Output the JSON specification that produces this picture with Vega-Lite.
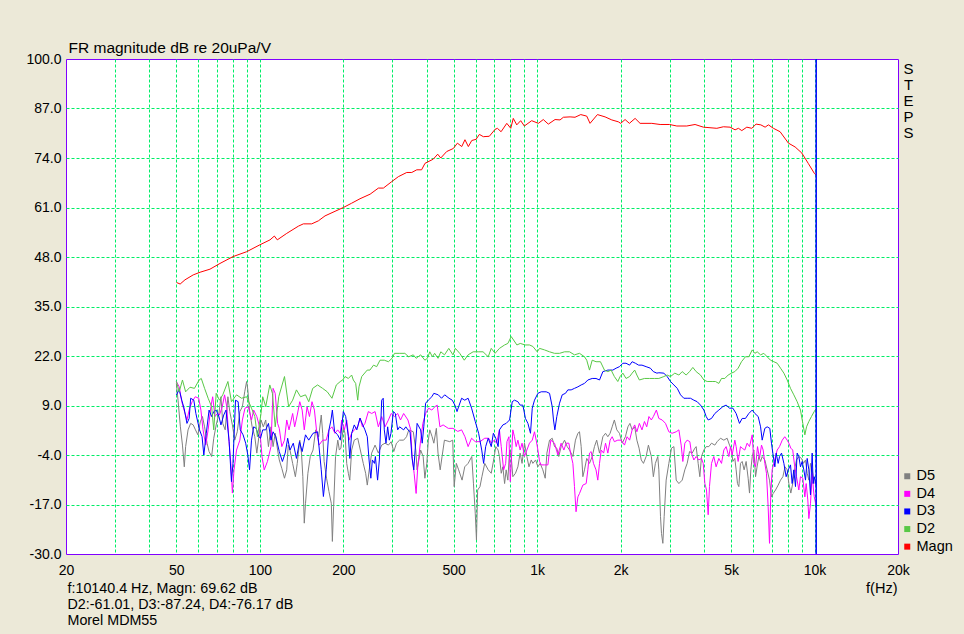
{
  "$schema": "https://vega.github.io/schema/vega-lite/v6.json",
  "width": 832,
  "height": 495,
  "autosize": {"type": "none"},
  "padding": {"left": 66, "top": 59, "right": 66, "bottom": 80},
  "background": "#ece9d8",
  "datasets": {
    "magn": [
      {"f":50.1,"v":41.3},{"f":51.6,"v":40.9},{"f":53.7,"v":42.0},{"f":57.5,"v":43.3},{"f":60.9,"v":44.0},{"f":66.1,"v":44.8},{"f":71.8,"v":46.3},{"f":80,"v":48.1},{"f":89.7,"v":49.4},{"f":100,"v":51.2},{"f":108.8,"v":52.5},{"f":112.8,"v":53.5},{"f":115.6,"v":52.5},{"f":125,"v":54.2},{"f":137.7,"v":56.1},{"f":143.5,"v":56.7},{"f":153.8,"v":56.7},{"f":162.6,"v":57.5},{"f":171.8,"v":58.8},{"f":200,"v":61.0},{"f":214,"v":62.1},{"f":229.7,"v":63.3},{"f":249.8,"v":64.5},{"f":267.6,"v":66.1},{"f":278.9,"v":66.1},{"f":299,"v":67.8},{"f":315.8,"v":69.1},{"f":338.6,"v":70.2},{"f":353,"v":70.2},{"f":368,"v":70.9},{"f":383,"v":70.9},{"f":394,"v":72.6},{"f":422,"v":73.7},{"f":437.8,"v":75.0},{"f":449,"v":74.0},{"f":471.8,"v":75.7},{"f":498.6,"v":76.5},{"f":515.6,"v":77.9},{"f":534.6,"v":77.0},{"f":549,"v":78.8},{"f":564.7,"v":77.0},{"f":581,"v":78.6},{"f":602,"v":78.9},{"f":618.9,"v":80.2},{"f":639.6,"v":79.6},{"f":672,"v":79.7},{"f":704.6,"v":81.5},{"f":718.6,"v":81.8},{"f":741,"v":80.9},{"f":777,"v":83.1},{"f":803,"v":81.8},{"f":820,"v":84.4},{"f":844,"v":82.7},{"f":872,"v":83.8},{"f":899,"v":82.4},{"f":955.6,"v":83.8},{"f":1010,"v":83.1},{"f":1052,"v":84.1},{"f":1097,"v":82.9},{"f":1160,"v":84.1},{"f":1209,"v":84.0},{"f":1243,"v":84.7},{"f":1314,"v":84.8},{"f":1369,"v":84.7},{"f":1436,"v":85.4},{"f":1509,"v":85.0},{"f":1551,"v":83.1},{"f":1649,"v":85.4},{"f":1757,"v":84.8},{"f":1858,"v":84.0},{"f":1962,"v":83.5},{"f":2000,"v":83.1},{"f":2075,"v":84.1},{"f":2150,"v":83.1},{"f":2255,"v":84.4},{"f":2350,"v":83.1},{"f":2590,"v":83.1},{"f":2775,"v":82.8},{"f":3000,"v":82.8},{"f":3188,"v":82.4},{"f":3462,"v":82.4},{"f":3709,"v":82.8},{"f":3975,"v":82.1},{"f":4444,"v":81.8},{"f":4692,"v":82.2},{"f":4961,"v":82.1},{"f":5172,"v":81.4},{"f":5316,"v":81.8},{"f":5467,"v":81.2},{"f":5700,"v":82.1},{"f":5941,"v":81.8},{"f":6155,"v":82.9},{"f":6403,"v":82.7},{"f":6636,"v":82.1},{"f":6820,"v":82.7},{"f":7109,"v":81.8},{"f":7515,"v":80.9},{"f":8053,"v":77.9},{"f":8513,"v":76.9},{"f":9001,"v":75.3},{"f":9508,"v":72.5},{"f":10000,"v":69.9},{"f":10140,"v":69.6}
    ],
    "d2": [
      {"f":50,"v":15.3},{"f":51.2,"v":12.6},{"f":52.6,"v":15.7},{"f":54.0,"v":12.6},{"f":56.0,"v":13.8},{"f":58.1,"v":13.5},{"f":60.4,"v":15.7},{"f":61.5,"v":16.1},{"f":63.2,"v":13.5},{"f":65.1,"v":10.9},{"f":67.0,"v":8.7},{"f":68.2,"v":2.6},{"f":69.6,"v":12.2},{"f":71.5,"v":10.4},{"f":73.5,"v":11.8},{"f":76.7,"v":15.3},{"f":79.0,"v":10.0},{"f":82.4,"v":11.8},{"f":85.9,"v":10.9},{"f":89.6,"v":11.3},{"f":93.3,"v":8.3},{"f":95.9,"v":6.1},{"f":98.0,"v":0.8},{"f":101.0,"v":6.9},{"f":102.4,"v":11.3},{"f":105.0,"v":8.7},{"f":108.6,"v":14.4},{"f":111.0,"v":12.2},{"f":113.6,"v":3.4},{"f":117.0,"v":11.3},{"f":122.7,"v":16.6},{"f":127.0,"v":8.7},{"f":131.3,"v":10.4},{"f":135.5,"v":13.1},{"f":140.2,"v":11.3},{"f":146.1,"v":11.8},{"f":150.1,"v":10.0},{"f":155.1,"v":13.5},{"f":161.5,"v":14.4},{"f":168.4,"v":13.5},{"f":175,"v":12.6},{"f":182,"v":10.9},{"f":188.7,"v":14.4},{"f":195,"v":15.3},
      {"f":199,"v":15.7},{"f":202.8,"v":16.6},{"f":208.5,"v":16.1},{"f":214.3,"v":17.0},{"f":217.3,"v":15.7},{"f":221.6,"v":14.8},{"f":225.4,"v":10.4},{"f":227.8,"v":13.9},{"f":233.0,"v":16.6},{"f":243.9,"v":18.3},{"f":249.4,"v":18.3},{"f":257.0,"v":19.6},{"f":263.8,"v":19.2},{"f":271.2,"v":20.9},{"f":281.0,"v":20.9},{"f":290.8,"v":20.5},{"f":299.7,"v":21.4},{"f":305.8,"v":22.7},{"f":318,"v":22.7},{"f":333.3,"v":22.7},{"f":344,"v":21.8},{"f":357.5,"v":22.3},{"f":366,"v":21.4},{"f":380,"v":22.3},{"f":393.6,"v":20.9},{"f":402,"v":21.4},{"f":410,"v":23.1},{"f":419,"v":21.8},{"f":426.8,"v":22.7},{"f":439,"v":21.4},{"f":449.3,"v":23.1},{"f":463.2,"v":22.3},{"f":480,"v":24.0},{"f":497,"v":22.3},{"f":507,"v":24.0},{"f":525.7,"v":22.7},{"f":546,"v":20.9},{"f":563.6,"v":22.3},{"f":587.5,"v":23.1},{"f":613,"v":23.1},{"f":638,"v":23.1},{"f":666,"v":21.8},{"f":683,"v":24.0},{"f":705,"v":22.7},
      {"f":731,"v":24.0},{"f":763,"v":24.9},{"f":784,"v":25.3},{"f":806,"v":27.1},{"f":822,"v":26.2},{"f":845,"v":24.9},{"f":869,"v":25.3},{"f":905,"v":24.9},{"f":938,"v":24.9},{"f":965,"v":24.5},{"f":1000,"v":23.1},{"f":1020,"v":24.0},{"f":1063,"v":23.6},{"f":1108,"v":23.1},{"f":1155,"v":22.7},{"f":1204,"v":22.7},{"f":1255,"v":23.1},{"f":1308,"v":23.1},{"f":1363,"v":22.3},{"f":1421,"v":22.7},{"f":1481,"v":21.8},{"f":1509,"v":20.9},{"f":1544,"v":18.3},{"f":1579,"v":20.9},{"f":1630,"v":20.5},{"f":1691,"v":20.5},{"f":1748,"v":18.3},{"f":1798,"v":17.9},{"f":1848,"v":18.3},{"f":1898,"v":16.6},{"f":1953,"v":15.3},{"f":1991,"v":16.6},{"f":2037,"v":17.5},{"f":2091,"v":16.1},{"f":2154,"v":16.6},{"f":2200,"v":17.5},{"f":2247,"v":18.3},{"f":2288,"v":17.0},{"f":2336,"v":15.7},{"f":2437,"v":16.1},{"f":2540,"v":16.1},{"f":2648,"v":16.1},
      {"f":2746,"v":16.1},{"f":2862,"v":16.6},{"f":2942,"v":17.0},{"f":3025,"v":16.6},{"f":3135,"v":17.5},{"f":3243,"v":17.0},{"f":3334,"v":17.9},{"f":3445,"v":17.0},{"f":3543,"v":17.9},{"f":3642,"v":19.0},{"f":3743,"v":17.9},{"f":3881,"v":17.0},{"f":3990,"v":15.7},{"f":4102,"v":15.3},{"f":4275,"v":15.3},{"f":4394,"v":15.3},{"f":4518,"v":14.8},{"f":4620,"v":16.1},{"f":4749,"v":16.1},{"f":4882,"v":17.0},{"f":5020,"v":17.5},{"f":5160,"v":17.9},{"f":5304,"v":18.8},{"f":5454,"v":20.5},{"f":5636,"v":21.8},{"f":5796,"v":21.8},{"f":5962,"v":23.6},{"f":6095,"v":22.7},{"f":6213,"v":23.1},{"f":6390,"v":22.3},{"f":6565,"v":22.7},{"f":6749,"v":21.8},{"f":6939,"v":20.9},{"f":7134,"v":20.5},{"f":7335,"v":20.1},{"f":7542,"v":18.8},{"f":7754,"v":17.5},{"f":7971,"v":15.7},{"f":8193,"v":13.5},{"f":8421,"v":11.8},{"f":8658,"v":10.0},{"f":8900,"v":7.8},{"f":9075,"v":4.3},{"f":9230,"v":1.3},{"f":9360,"v":3.4},{"f":9541,"v":4.8},{"f":9750,"v":6.1},{"f":9973,"v":7.4},{"f":10140,"v":8.2}
    ],
    "d3": [
      {"f":50,"v":11.8},{"f":51.2,"v":13.1},{"f":52.3,"v":10.4},{"f":53.3,"v":8.3},{"f":54.6,"v":4.3},{"f":55.6,"v":5.6},{"f":56.3,"v":10.9},{"f":57.8,"v":10.4},{"f":58.8,"v":6.9},{"f":60.6,"v":2.6},{"f":61.9,"v":0.8},{"f":62.8,"v":-4.0},{"f":64.1,"v":1.7},{"f":65.6,"v":7.8},{"f":67.0,"v":6.1},{"f":68.2,"v":7.4},{"f":69.6,"v":7.8},{"f":71.2,"v":6.1},{"f":72.4,"v":3.9},{"f":74.1,"v":6.5},{"f":75.5,"v":7.8},{"f":77.5,"v":-0.5},{"f":79.0,"v":-11.0},{"f":80.0,"v":-6.2},{"f":81.7,"v":10.4},{"f":83.5,"v":10.0},{"f":85.0,"v":2.6},{"f":87.0,"v":1.3},{"f":88.9,"v":-0.9},{"f":90.5,"v":-4.0},{"f":91.8,"v":-7.9},{"f":93.3,"v":-0.1},{"f":95.0,"v":3.4},{"f":97.0,"v":3.0},{"f":99.2,"v":0.8},{"f":100.6,"v":0.4},{"f":102.4,"v":2.6},{"f":105.0,"v":2.6},{"f":107.4,"v":4.3},{"f":109.7,"v":-0.1},{"f":111.6,"v":2.1},{"f":114.2,"v":0.8},{"f":117.5,"v":-3.1},{"f":120.6,"v":-5.7},{"f":123.4,"v":-3.5},{"f":126.0,"v":0.4},{"f":128.4,"v":-2.7},{"f":132.0,"v":-0.9},{"f":135.5,"v":-4.9},{"f":139.0,"v":-0.5},{"f":142.1,"v":-3.1},{"f":146.1,"v":1.3},{"f":150.1,"v":-0.1},{"f":155.5,"v":1.7},{"f":161.5,"v":2.1},{"f":166.5,"v":-7.9},{"f":169.5,"v":-14.9},{"f":173.5,"v":-7.9},{"f":177.5,"v":2.6},{"f":180.5,"v":5.2},{"f":182.6,"v":7.8},{"f":186,"v":2.1},{"f":190.8,"v":1.3},{"f":195,"v":-0.1},
      {"f":200,"v":7.4},{"f":204,"v":6.1},{"f":208.5,"v":0.8},{"f":211.1,"v":-4.9},{"f":214.3,"v":1.7},{"f":219,"v":3.9},{"f":223.7,"v":2.6},{"f":229.7,"v":5.7},{"f":235,"v":3.9},{"f":239.3,"v":2.6},{"f":244,"v":0.8},{"f":247.6,"v":-5.3},{"f":251.3,"v":-10.1},{"f":254.5,"v":-5.3},{"f":259,"v":-6.2},{"f":261,"v":-4.4},{"f":265.8,"v":-10.6},{"f":269.7,"v":-5.3},{"f":275,"v":10.4},{"f":278.5,"v":10.9},{"f":281,"v":2.6},{"f":285,"v":-0.9},{"f":289,"v":3.4},{"f":293,"v":-0.1},{"f":297,"v":1.7},{"f":303,"v":7.4},{"f":308,"v":6.9},{"f":314,"v":2.6},{"f":319,"v":3.4},{"f":330,"v":2.6},{"f":336,"v":3.4},{"f":342,"v":2.6},{"f":348,"v":2.1},{"f":354,"v":-4.9},{"f":359,"v":-7.9},{"f":363,"v":-2.7},{"f":369,"v":4.3},{"f":380,"v":2.6},{"f":385,"v":-0.9},{"f":390,"v":3.4},{"f":396,"v":9.6},{"f":405,"v":10.4},{"f":417,"v":11.3},{"f":424,"v":12.2},{"f":440,"v":11.8},{"f":452,"v":10.9},{"f":464,"v":11.8},{"f":481,"v":10.9},{"f":494,"v":10.4},{"f":505,"v":9.1},{"f":514,"v":7.4},{"f":521,"v":8.7},{"f":534,"v":10.9},{"f":548,"v":10.4},{"f":563.6,"v":10.9},{"f":580,"v":8.3},{"f":598,"v":4.8},{"f":615,"v":1.7},{"f":631,"v":-2.7},{"f":641,"v":-6.2},{"f":652,"v":-1.8},{"f":666,"v":0.4},{"f":683,"v":-1.8},{"f":695,"v":1.7},{"f":709,"v":0.4},{"f":723,"v":-1.8},
      {"f":731,"v":2.6},{"f":752,"v":3.9},{"f":773,"v":4.3},{"f":795,"v":5.2},{"f":813,"v":10.0},{"f":828,"v":10.4},{"f":852,"v":10.0},{"f":868,"v":9.1},{"f":888,"v":9.1},{"f":907,"v":5.6},{"f":926,"v":4.3},{"f":946,"v":1.7},{"f":960,"v":8.3},{"f":978,"v":10.4},{"f":1006,"v":12.2},{"f":1034,"v":12.6},{"f":1078,"v":12.6},{"f":1108,"v":12.2},{"f":1133,"v":8.7},{"f":1145,"v":5.2},{"f":1158,"v":2.6},{"f":1177,"v":6.1},{"f":1204,"v":9.6},{"f":1231,"v":11.8},{"f":1265,"v":12.2},{"f":1290,"v":13.1},{"f":1326,"v":13.1},{"f":1363,"v":13.5},{"f":1402,"v":13.9},{"f":1441,"v":14.4},{"f":1481,"v":14.8},{"f":1523,"v":15.7},{"f":1579,"v":16.1},{"f":1630,"v":16.1},{"f":1678,"v":15.7},{"f":1725,"v":17.9},{"f":1798,"v":18.3},{"f":1874,"v":18.3},{"f":1926,"v":18.8},{"f":1980,"v":19.2},{"f":2037,"v":20.1},{"f":2091,"v":20.1},{"f":2154,"v":19.6},{"f":2200,"v":20.5},{"f":2260,"v":20.1},{"f":2322,"v":19.6},{"f":2387,"v":19.6},{"f":2471,"v":19.2},{"f":2559,"v":18.8},{"f":2624,"v":17.9},{"f":2701,"v":17.5},
      {"f":2746,"v":17.6},{"f":2862,"v":17.5},{"f":2942,"v":16.6},{"f":3025,"v":15.3},{"f":3111,"v":14.4},{"f":3199,"v":13.5},{"f":3288,"v":11.8},{"f":3379,"v":10.9},{"f":3474,"v":10.9},{"f":3571,"v":10.9},{"f":3672,"v":10.4},{"f":3775,"v":10.0},{"f":3881,"v":9.1},{"f":3990,"v":7.8},{"f":4068,"v":6.1},{"f":4136,"v":5.2},{"f":4252,"v":5.6},{"f":4371,"v":6.9},{"f":4518,"v":7.8},{"f":4671,"v":8.7},{"f":4800,"v":9.1},{"f":4937,"v":8.3},{"f":5076,"v":8.3},{"f":5217,"v":6.9},{"f":5364,"v":4.3},{"f":5484,"v":5.6},{"f":5636,"v":5.6},{"f":5796,"v":6.9},{"f":5962,"v":7.8},{"f":6095,"v":6.9},{"f":6265,"v":6.1},{"f":6390,"v":3.4},{"f":6476,"v":-0.1},{"f":6620,"v":3.0},{"f":6749,"v":3.4},{"f":6900,"v":3.0},{"f":6995,"v":-0.9},{"f":7075,"v":-3.5},{"f":7194,"v":-7.1},{"f":7274,"v":-3.5},{"f":7396,"v":-6.2},{"f":7480,"v":-4.4},{"f":7605,"v":-3.5},{"f":7754,"v":-6.2},{"f":7902,"v":-9.7},{"f":8040,"v":-7.9},{"f":8193,"v":-6.6},{"f":8306,"v":-11.5},{"f":8421,"v":-7.9},{"f":8539,"v":-12.3},{"f":8658,"v":-3.5},{"f":8779,"v":-4.4},{"f":8900,"v":-7.1},{"f":9025,"v":-5.7},{"f":9151,"v":-7.9},{"f":9279,"v":-10.6},{"f":9409,"v":-4.9},{"f":9541,"v":-7.9},{"f":9672,"v":-14.5},{"f":9808,"v":-3.5},{"f":9888,"v":-11.5},{"f":9973,"v":-9.7},{"f":10140,"v":-12.0}
    ],
    "d4": [
      {"f":50,"v":15.3},{"f":51.2,"v":13.9},{"f":52.3,"v":10.0},{"f":53.3,"v":7.8},{"f":54.6,"v":5.2},{"f":55.8,"v":8.3},{"f":57.0,"v":10.0},{"f":58.5,"v":11.3},{"f":60.2,"v":10.9},{"f":61.3,"v":7.8},{"f":62.4,"v":2.6},{"f":63.8,"v":-1.4},{"f":65.1,"v":2.6},{"f":66.6,"v":8.7},{"f":67.6,"v":11.3},{"f":68.9,"v":6.1},{"f":70.3,"v":6.9},{"f":71.5,"v":6.5},{"f":73.2,"v":8.7},{"f":74.6,"v":11.8},{"f":76.0,"v":8.7},{"f":77.5,"v":-0.9},{"f":78.6,"v":-6.2},{"f":79.6,"v":-14.0},{"f":80.7,"v":-7.9},{"f":82.4,"v":-2.7},{"f":84.7,"v":-0.1},{"f":86.5,"v":5.2},{"f":88.4,"v":8.3},{"f":90.8,"v":8.7},{"f":93.3,"v":5.2},{"f":95.0,"v":7.8},{"f":97.5,"v":6.1},{"f":99.8,"v":3.4},{"f":101.8,"v":-4.4},{"f":103.7,"v":-7.9},{"f":106.5,"v":-5.7},{"f":109.7,"v":-1.8},{"f":111.6,"v":13.5},{"f":113.6,"v":12.2},{"f":115.9,"v":4.3},{"f":117.5,"v":3.0},{"f":120.0,"v":-1.8},{"f":122.7,"v":-0.1},{"f":125.0,"v":5.2},{"f":127.4,"v":2.6},{"f":131.3,"v":6.9},{"f":133.5,"v":3.4},{"f":136.4,"v":6.5},{"f":139.3,"v":10.0},{"f":142.1,"v":7.8},{"f":144.6,"v":2.6},{"f":148.0,"v":8.7},{"f":151.0,"v":6.1},{"f":154.2,"v":10.0},{"f":157.3,"v":7.8},{"f":160.5,"v":1.7},{"f":163.5,"v":-1.4},{"f":168.5,"v":-0.1},{"f":173.5,"v":-0.1},{"f":177.5,"v":2.6},{"f":182,"v":3.4},{"f":186.5,"v":1.7},{"f":190.8,"v":2.6},{"f":195,"v":1.7},
      {"f":197.2,"v":5.2},{"f":201.7,"v":2.6},{"f":205.7,"v":5.2},{"f":209.7,"v":-0.1},{"f":214.3,"v":1.7},{"f":219,"v":2.6},{"f":225.4,"v":3.4},{"f":229.7,"v":5.7},{"f":234.4,"v":3.4},{"f":239.3,"v":4.3},{"f":246.2,"v":7.4},{"f":253.1,"v":6.9},{"f":260.3,"v":7.4},{"f":267.5,"v":3.4},{"f":275,"v":6.1},{"f":282.8,"v":3.4},{"f":290.8,"v":5.2},{"f":297.6,"v":6.9},{"f":305.8,"v":6.1},{"f":314,"v":6.9},{"f":321.5,"v":5.2},{"f":330,"v":6.9},{"f":342,"v":5.2},{"f":350,"v":2.6},{"f":354,"v":-4.4},{"f":360,"v":-8.8},{"f":366,"v":-14.1},{"f":371,"v":-7.1},{"f":379,"v":-0.9},{"f":387,"v":4.3},{"f":396,"v":6.9},{"f":406,"v":8.3},{"f":417,"v":7.8},{"f":428,"v":8.7},{"f":436,"v":9.1},{"f":446,"v":3.4},{"f":458,"v":3.9},{"f":478,"v":3.0},{"f":497,"v":3.0},{"f":517,"v":2.2},{"f":534,"v":2.6},{"f":549,"v":0.8},{"f":563.6,"v":-1.8},{"f":580,"v":0.4},{"f":598,"v":-0.5},{"f":622,"v":-0.5},{"f":647,"v":0.4},{"f":669,"v":0.4},{"f":683,"v":-0.9},{"f":700,"v":-0.1},{"f":714,"v":-0.9},
      {"f":731,"v":2.6},{"f":742,"v":-1.8},{"f":757,"v":-7.9},{"f":770,"v":-6.2},{"f":778,"v":-0.5},{"f":791,"v":0.8},{"f":800,"v":-11.0},{"f":808,"v":-4.4},{"f":817,"v":2.6},{"f":828,"v":0.8},{"f":840,"v":-1.8},{"f":852,"v":-0.1},{"f":868,"v":-2.7},{"f":882,"v":-0.9},{"f":900,"v":-4.4},{"f":918,"v":-2.7},{"f":938,"v":-0.9},{"f":960,"v":-0.1},{"f":978,"v":2.1},{"f":992,"v":-0.1},{"f":1006,"v":-2.7},{"f":1020,"v":-5.7},{"f":1034,"v":-6.6},{"f":1063,"v":-6.6},{"f":1093,"v":-6.6},{"f":1108,"v":-2.7},{"f":1120,"v":-0.1},{"f":1155,"v":-0.9},{"f":1187,"v":-4.0},{"f":1220,"v":-0.9},{"f":1248,"v":-2.7},{"f":1272,"v":-0.9},{"f":1301,"v":-0.9},{"f":1319,"v":-3.5},{"f":1345,"v":-6.2},{"f":1363,"v":-12.3},{"f":1381,"v":-18.9},{"f":1402,"v":-15.0},{"f":1421,"v":-14.1},{"f":1461,"v":-11.9},{"f":1502,"v":-11.5},{"f":1523,"v":-7.9},{"f":1544,"v":-3.5},{"f":1565,"v":-3.1},{"f":1596,"v":-6.2},{"f":1630,"v":-7.9},{"f":1654,"v":-10.6},{"f":1678,"v":-6.2},{"f":1702,"v":-2.7},{"f":1736,"v":-3.5},{"f":1764,"v":-0.9},{"f":1798,"v":-3.5},{"f":1832,"v":-0.1},{"f":1864,"v":0.8},{"f":1898,"v":-0.5},{"f":1953,"v":-0.1},{"f":2006,"v":-0.1},{"f":2065,"v":-1.4},{"f":2109,"v":0.8},{"f":2154,"v":-0.1},{"f":2200,"v":2.6},{"f":2247,"v":3.9},{"f":2288,"v":2.1},{"f":2336,"v":4.3},{"f":2387,"v":2.6},{"f":2437,"v":4.8},{"f":2483,"v":3.4},{"f":2529,"v":6.1},{"f":2580,"v":5.2},{"f":2624,"v":6.1},{"f":2690,"v":7.8},
      {"f":2746,"v":5.6},{"f":2823,"v":5.2},{"f":2902,"v":4.3},{"f":2984,"v":2.1},{"f":3066,"v":1.7},{"f":3172,"v":2.1},{"f":3243,"v":2.6},{"f":3305,"v":-1.4},{"f":3351,"v":-5.7},{"f":3407,"v":-0.9},{"f":3474,"v":-0.1},{"f":3552,"v":-0.5},{"f":3601,"v":-3.5},{"f":3672,"v":-5.3},{"f":3743,"v":-4.4},{"f":3827,"v":-5.3},{"f":3913,"v":-4.9},{"f":3969,"v":-6.2},{"f":4024,"v":-11.5},{"f":4079,"v":-13.2},{"f":4136,"v":-19.7},{"f":4181,"v":-12.3},{"f":4252,"v":-6.2},{"f":4334,"v":-4.4},{"f":4418,"v":-7.1},{"f":4518,"v":-4.9},{"f":4620,"v":-6.2},{"f":4710,"v":-2.7},{"f":4800,"v":-1.8},{"f":4909,"v":-4.4},{"f":4979,"v":-1.8},{"f":5048,"v":-4.0},{"f":5160,"v":-0.1},{"f":5217,"v":-1.8},{"f":5304,"v":-5.7},{"f":5408,"v":-1.8},{"f":5484,"v":-2.2},{"f":5605,"v":-2.7},{"f":5715,"v":-0.9},{"f":5829,"v":-1.8},{"f":5962,"v":1.3},{"f":6045,"v":-6.2},{"f":6129,"v":-7.1},{"f":6230,"v":-1.8},{"f":6334,"v":-4.9},{"f":6440,"v":-1.4},{"f":6529,"v":-2.7},{"f":6620,"v":-6.2},{"f":6711,"v":-8.8},{"f":6805,"v":-17.6},{"f":6882,"v":-27.2},{"f":6957,"v":-14.1},{"f":7035,"v":-7.9},{"f":7134,"v":-6.2},{"f":7234,"v":-4.4},{"f":7335,"v":-2.7},{"f":7480,"v":-1.8},{"f":7650,"v":-0.1},{"f":7810,"v":0.8},{"f":7971,"v":-0.1},{"f":8081,"v":-0.9},{"f":8214,"v":-2.2},{"f":8345,"v":-2.7},{"f":8470,"v":-6.6},{"f":8610,"v":-9.7},{"f":8779,"v":-13.2},{"f":8900,"v":-9.7},{"f":9075,"v":-10.1},{"f":9230,"v":-15.0},{"f":9330,"v":-11.5},{"f":9460,"v":-15.8},{"f":9541,"v":-20.7},{"f":9672,"v":-16.8},{"f":9808,"v":-8.8},{"f":9915,"v":-13.2},{"f":9973,"v":-14.9},{"f":10140,"v":-17.5}
    ],
    "d5": [
      {"f":50,"v":14.8},{"f":50.7,"v":10.4},{"f":51.7,"v":3.4},{"f":52.6,"v":-1.4},{"f":53.4,"v":-7.1},{"f":54.0,"v":-1.8},{"f":55.1,"v":2.6},{"f":56.3,"v":4.3},{"f":57.5,"v":3.9},{"f":58.6,"v":2.6},{"f":59.8,"v":1.3},{"f":61.0,"v":4.7},{"f":62.1,"v":6.1},{"f":63.2,"v":3.4},{"f":64.5,"v":-0.9},{"f":65.6,"v":-3.1},{"f":67.0,"v":-4.4},{"f":68.2,"v":0.4},{"f":69.6,"v":3.9},{"f":71.2,"v":6.9},{"f":72.4,"v":11.3},{"f":73.5,"v":4.3},{"f":75.0,"v":2.6},{"f":76.7,"v":11.3},{"f":77.9,"v":7.4},{"f":79.6,"v":3.9},{"f":81.2,"v":-0.1},{"f":82.9,"v":2.1},{"f":84.7,"v":7.4},{"f":86.5,"v":8.7},{"f":88.2,"v":12.6},{"f":89.6,"v":15.3},{"f":90.5,"v":13.1},{"f":91.8,"v":7.8},{"f":93.8,"v":3.4},{"f":95.9,"v":0.8},{"f":97.5,"v":-3.5},{"f":99.2,"v":0.8},{"f":101.0,"v":5.2},{"f":102.9,"v":3.4},{"f":105.0,"v":5.2},{"f":107.4,"v":-1.8},{"f":109.7,"v":3.4},{"f":111.6,"v":-1.8},{"f":113.6,"v":1.7},{"f":115.9,"v":-2.7},{"f":117.5,"v":-5.3},{"f":120.0,"v":-7.5},{"f":122.7,"v":-10.1},{"f":125.0,"v":-7.9},{"f":126.6,"v":-1.4},{"f":128.4,"v":-2.7},{"f":131.3,"v":-6.2},{"f":134.3,"v":-9.7},{"f":136.4,"v":-6.2},{"f":139.3,"v":-0.1},{"f":141.3,"v":-3.5},{"f":142.9,"v":-9.7},{"f":144.6,"v":-21.9},{"f":146.1,"v":-16.7},{"f":149.0,"v":-8.8},{"f":152,"v":-4.4},{"f":155.5,"v":-2.7},{"f":159,"v":2.6},{"f":163,"v":0.8},{"f":166.5,"v":6.5},{"f":168.5,"v":1.7},{"f":170.5,"v":-5.7},{"f":174,"v":-10.1},{"f":177.5,"v":-13.6},{"f":181,"v":-16.7},{"f":182.6,"v":-26.7},{"f":184.5,"v":-17.6},{"f":187.5,"v":-4.4},{"f":191,"v":-0.1},{"f":193.5,"v":-2.7},
      {"f":196,"v":-2.2},{"f":200,"v":3.4},{"f":202.8,"v":1.7},{"f":205.7,"v":-6.2},{"f":208.5,"v":-8.8},{"f":211,"v":-10.6},{"f":214.3,"v":-2.7},{"f":219,"v":-0.1},{"f":225.4,"v":0.4},{"f":231.6,"v":-3.5},{"f":236,"v":-6.2},{"f":240.7,"v":-8.8},{"f":244,"v":-11.9},{"f":248,"v":-7.9},{"f":253,"v":-3.5},{"f":260.3,"v":-1.4},{"f":267.5,"v":-3.5},{"f":275,"v":-1.4},{"f":282.8,"v":-0.9},{"f":290.8,"v":-1.4},{"f":297.6,"v":-0.5},{"f":304,"v":-3.1},{"f":311,"v":-0.9},{"f":319,"v":-0.1},{"f":330,"v":-0.1},{"f":338,"v":0.8},{"f":344.5,"v":2.6},{"f":357.5,"v":2.1},{"f":365,"v":-2.7},{"f":369,"v":-7.9},{"f":380,"v":-2.7},{"f":388,"v":-4.4},{"f":393.6,"v":-10.1},{"f":400,"v":-6.2},{"f":405,"v":-0.1},{"f":410,"v":2.6},{"f":418,"v":0.8},{"f":424,"v":-0.9},{"f":433,"v":3.0},{"f":439,"v":-3.5},{"f":447,"v":-7.9},{"f":454,"v":-4.4},{"f":463,"v":-0.1},{"f":484,"v":-0.5},{"f":496,"v":-0.1},{"f":502,"v":-12.3},{"f":511,"v":-6.2},{"f":521,"v":-7.9},{"f":536,"v":-10.6},{"f":548,"v":-7.1},{"f":563.6,"v":-6.2},{"f":581,"v":-4.4},{"f":589,"v":-11.4},{"f":598,"v":-19.3},{"f":604,"v":-26.3},{"f":610,"v":-13.2},{"f":622,"v":-12.3},{"f":632,"v":-9.7},{"f":647,"v":-6.2},{"f":666,"v":-7.9},{"f":683,"v":-8.8},{"f":700,"v":-4.4},{"f":709,"v":-1.8},{"f":723,"v":-2.7},
      {"f":731,"v":-4.4},{"f":742,"v":-8.8},{"f":752,"v":-7.1},{"f":763,"v":-11.5},{"f":773,"v":-7.9},{"f":784,"v":-10.6},{"f":795,"v":-2.7},{"f":806,"v":-4.4},{"f":817,"v":-9.7},{"f":835,"v":-8.8},{"f":852,"v":-7.1},{"f":868,"v":-3.5},{"f":882,"v":-6.2},{"f":900,"v":-0.9},{"f":918,"v":-4.4},{"f":934,"v":-7.1},{"f":952,"v":-5.3},{"f":965,"v":-6.2},{"f":987,"v":-5.3},{"f":1006,"v":-7.1},{"f":1025,"v":-6.2},{"f":1048,"v":-7.9},{"f":1069,"v":-10.1},{"f":1084,"v":-3.5},{"f":1108,"v":-0.1},{"f":1133,"v":0.4},{"f":1155,"v":-1.8},{"f":1177,"v":-2.2},{"f":1196,"v":-4.4},{"f":1220,"v":-1.8},{"f":1255,"v":-0.1},{"f":1283,"v":-1.8},{"f":1308,"v":-2.7},{"f":1345,"v":-4.4},{"f":1374,"v":-0.1},{"f":1402,"v":1.7},{"f":1421,"v":2.1},{"f":1441,"v":-1.8},{"f":1461,"v":-9.7},{"f":1481,"v":-7.9},{"f":1509,"v":-4.9},{"f":1544,"v":-6.2},{"f":1579,"v":-4.4},{"f":1609,"v":-1.8},{"f":1639,"v":-0.1},{"f":1678,"v":-3.5},{"f":1725,"v":0.8},{"f":1764,"v":1.7},{"f":1798,"v":0.8},{"f":1832,"v":1.7},{"f":1864,"v":3.4},{"f":1898,"v":5.2},{"f":1937,"v":2.6},{"f":1980,"v":1.7},{"f":2026,"v":-0.9},{"f":2080,"v":0.8},{"f":2124,"v":3.4},{"f":2160,"v":4.3},{"f":2200,"v":2.6},{"f":2247,"v":3.4},{"f":2288,"v":-0.1},{"f":2330,"v":-2.2},{"f":2373,"v":-5.3},{"f":2417,"v":-6.2},{"f":2471,"v":-4.4},{"f":2518,"v":-1.4},{"f":2580,"v":-4.4},{"f":2624,"v":-9.7},{"f":2668,"v":-6.2},{"f":2722,"v":-4.4},
      {"f":2746,"v":-7.9},{"f":2784,"v":-20.2},{"f":2807,"v":-24.6},{"f":2839,"v":-27.2},{"f":2870,"v":-20.2},{"f":2918,"v":-10.6},{"f":2984,"v":-6.2},{"f":3050,"v":-2.2},{"f":3111,"v":-1.8},{"f":3172,"v":-10.6},{"f":3243,"v":-11.5},{"f":3334,"v":-10.6},{"f":3407,"v":-7.9},{"f":3474,"v":-6.2},{"f":3543,"v":-3.1},{"f":3622,"v":-3.5},{"f":3703,"v":-2.2},{"f":3743,"v":-1.8},{"f":3806,"v":-6.2},{"f":3859,"v":-9.7},{"f":3913,"v":-4.4},{"f":3990,"v":-2.7},{"f":4068,"v":-1.8},{"f":4159,"v":-1.8},{"f":4252,"v":-0.9},{"f":4371,"v":-1.4},{"f":4455,"v":-0.5},{"f":4581,"v":0.4},{"f":4710,"v":-0.1},{"f":4841,"v":0.4},{"f":4937,"v":-1.4},{"f":5020,"v":-2.7},{"f":5076,"v":-5.7},{"f":5160,"v":-4.9},{"f":5217,"v":-7.9},{"f":5275,"v":-11.5},{"f":5335,"v":-12.3},{"f":5408,"v":-6.2},{"f":5484,"v":-5.7},{"f":5574,"v":-7.9},{"f":5668,"v":-5.7},{"f":5764,"v":-10.1},{"f":5829,"v":-14.0},{"f":5894,"v":-7.9},{"f":5962,"v":-4.4},{"f":6045,"v":-2.7},{"f":6129,"v":-9.7},{"f":6213,"v":-6.9},{"f":6300,"v":-4.4},{"f":6390,"v":-5.7},{"f":6476,"v":-4.4},{"f":6620,"v":-5.3},{"f":6749,"v":-7.9},{"f":6882,"v":-10.6},{"f":6995,"v":-15.0},{"f":7095,"v":-14.1},{"f":7234,"v":-13.2},{"f":7396,"v":-11.9},{"f":7542,"v":-10.6},{"f":7690,"v":-9.7},{"f":7830,"v":-7.1},{"f":7971,"v":-7.9},{"f":8081,"v":-11.5},{"f":8214,"v":-14.0},{"f":8345,"v":-11.5},{"f":8470,"v":-7.9},{"f":8610,"v":-5.3},{"f":8779,"v":-4.4},{"f":8976,"v":-4.9},{"f":9130,"v":-6.2},{"f":9279,"v":-5.3},{"f":9409,"v":-8.8},{"f":9541,"v":-10.6},{"f":9672,"v":-6.2},{"f":9808,"v":-7.9},{"f":9973,"v":-11.5}
    ],
    "cursor": [{"f": 10140.4}]
  },
  "layer": [
    {
      "data": {"name": "d5"},
      "mark": {"type": "line", "strokeWidth": 1, "clip": true},
      "encoding": {
        "x": {
          "field": "f", "type": "quantitative",
          "scale": {"type": "log", "domain": [20, 20000], "nice": false},
          "axis": {
            "orient": "bottom",
            "values": [20,30,40,50,60,70,80,90,100,200,300,400,500,600,700,800,900,1000,2000,3000,4000,5000,6000,7000,8000,9000,10000,20000],
            "labelExpr": "(datum.value == 20 || datum.value == 50 || datum.value == 100 || datum.value == 200 || datum.value == 500) ? '' + datum.value : ((datum.value == 1000 || datum.value == 2000 || datum.value == 5000 || datum.value == 10000 || datum.value == 20000) ? (datum.value / 1000) + 'k' : '')",
            "labelOverlap": false,
            "labelFlush": false,
            "labelPadding": 9,
            "grid": true,
            "gridOpacity": {"condition": {"test": "datum.value == 20 || datum.value == 20000", "value": 0}, "value": 1},
            "title": "f(Hz)",
            "titleX": 831,
            "titleY": 27,
            "titleAlign": "right",
            "titleBaseline": "top",
            "titleFontSize": 14.5
          }
        },
        "y": {
          "field": "v", "type": "quantitative",
          "scale": {"domain": [-30, 100], "nice": false, "zero": false},
          "axis": {
            "orient": "left",
            "values": [-30,-17,-4,9,22,35,48,61,74,87,100],
            "labelExpr": "replace(format(datum.value, '.1f'), '\u2212', '-')",
            "labelPadding": 5,
            "grid": true,
            "gridOpacity": {"condition": {"test": "datum.value == -30 || datum.value == 100", "value": 0}, "value": 1},
            "title": "FR magnitude dB re 20uPa/V",
            "titleAngle": 0,
            "titleAlign": "left",
            "titleBaseline": "alphabetic",
            "titleX": 2,
            "titleY": -7,
            "titleFontSize": 15.5
          }
        },
        "color": {
          "datum": "D5",
          "scale": {"domain": ["D5", "D4", "D3", "D2", "Magn"], "range": ["#808080", "#ff00ff", "#0000ff", "#58c846", "#ff0000"]},
          "legend": {
            "orient": "none",
            "legendX": 834,
            "legendY": 410,
            "title": null,
            "padding": 0,
            "symbolType": "square",
            "symbolSize": 36,
            "symbolStrokeWidth": 0,
            "labelFontSize": 14.5,
            "labelColor": "black",
            "labelOffset": 2,
            "rowPadding": 2.6,
            "encode": {"symbols": {"update": {"fill": {"scale": "color", "field": "value"}, "fillOpacity": {"value": 1}}}}
          }
        }
      }
    },
    {
      "data": {"name": "d4"},
      "mark": {"type": "line", "strokeWidth": 1, "clip": true},
      "encoding": {
        "x": {"field": "f", "type": "quantitative", "scale": {"type": "log", "domain": [20, 20000], "nice": false}, "axis": null},
        "y": {"field": "v", "type": "quantitative", "scale": {"domain": [-30, 100], "nice": false, "zero": false}, "axis": null},
        "color": {"datum": "D4"}
      }
    },
    {
      "data": {"name": "d3"},
      "mark": {"type": "line", "strokeWidth": 1, "clip": true},
      "encoding": {
        "x": {"field": "f", "type": "quantitative", "scale": {"type": "log", "domain": [20, 20000], "nice": false}, "axis": null},
        "y": {"field": "v", "type": "quantitative", "scale": {"domain": [-30, 100], "nice": false, "zero": false}, "axis": null},
        "color": {"datum": "D3"}
      }
    },
    {
      "data": {"name": "d2"},
      "mark": {"type": "line", "strokeWidth": 1, "clip": true},
      "encoding": {
        "x": {"field": "f", "type": "quantitative", "scale": {"type": "log", "domain": [20, 20000], "nice": false}, "axis": null},
        "y": {"field": "v", "type": "quantitative", "scale": {"domain": [-30, 100], "nice": false, "zero": false}, "axis": null},
        "color": {"datum": "D2"}
      }
    },
    {
      "data": {"name": "magn"},
      "mark": {"type": "line", "strokeWidth": 1, "clip": true},
      "encoding": {
        "x": {
          "field": "f", "type": "quantitative",
          "scale": {"type": "log", "domain": [20, 20000], "nice": false},
          "axis": {
            "orient": "bottom",
            "labels": false,
            "grid": false,
            "title": ["f:10140.4 Hz, Magn: 69.62 dB", "D2:-61.01, D3:-87.24, D4:-76.17 dB", "Morel MDM55"],
            "titleX": 1,
            "titleY": 27,
            "titleAlign": "left",
            "titleBaseline": "top",
            "titleLineHeight": 16,
            "titleFontSize": 14.3
          }
        },
        "y": {
          "field": "v", "type": "quantitative",
          "scale": {"domain": [-30, 100], "nice": false, "zero": false},
          "axis": {
            "orient": "right",
            "labels": false,
            "grid": false,
            "title": ["S", "T", "E", "P", "S"],
            "titleAngle": 0,
            "titleAlign": "center",
            "titleBaseline": "top",
            "titleX": 10,
            "titleY": 2,
            "titleLineHeight": 16,
            "titleFontSize": 15
          }
        },
        "color": {"datum": "Magn"}
      }
    },
    {
      "data": {"name": "cursor"},
      "mark": {"type": "rule", "color": "#0000ff", "strokeWidth": 1.5},
      "encoding": {
        "x": {"field": "f", "type": "quantitative", "scale": {"type": "log", "domain": [20, 20000], "nice": false}, "axis": null}
      }
    }
  ],
  "resolve": {"axis": {"x": "independent", "y": "independent"}},
  "config": {
    "font": "Liberation Sans",
    "view": {"fill": "white", "stroke": "#8000ff", "strokeWidth": 1},
    "axis": {
      "domain": false,
      "ticks": false,
      "tickSize": 0,
      "labelFontSize": 14,
      "labelColor": "black",
      "titleFontWeight": "normal",
      "titleColor": "black",
      "gridColor": "#00ee66",
      "gridDash": [3, 2],
      "gridWidth": 1
    }
  }
}
